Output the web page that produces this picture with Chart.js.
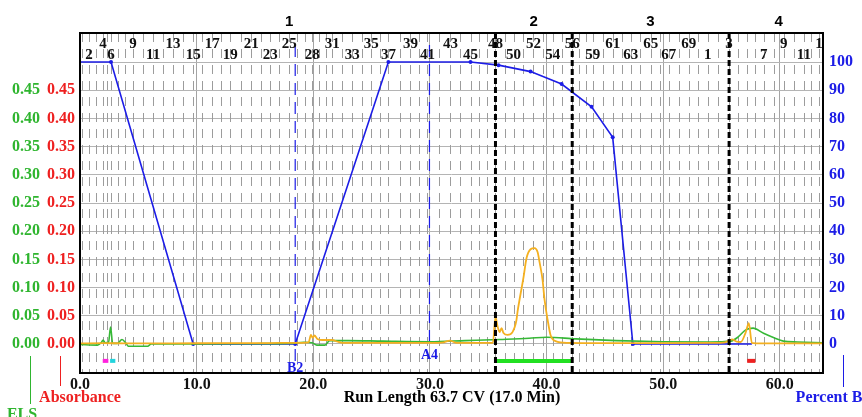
<!DOCTYPE html>
<html>
<head>
<meta charset="utf-8">
<script src="https://cdn.jsdelivr.net/npm/chart.js@4.4.1/dist/chart.umd.min.js"></script>
<style>
  html, body { margin: 0; padding: 0; background: #fff; }
  #wrap { width: 862px; height: 417px; }
</style>
</head>
<body>
<div id="wrap"><canvas id="chart" width="862" height="417"></canvas></div>
<script>
// gradient, percent B
const gradientCV = [0, 2.66, 9.7, 18.45, 26.44, 33.48, 35.88, 38.63, 41.29, 43.86, 45.67, 47.4, 57.6];
const gradientB = [100, 100, 0, 0, 100, 100, 98.9, 96.6, 92.2, 84.1, 73.3, 0, 0];

// absorbance trace
const uvCV = [0, 2, 4, 8, 12, 16, 18.3, 19.6, 19.8, 19.95, 20.1, 20.35, 20.8, 21.6, 22.1, 22.5,
  26, 30, 31.2, 31.7, 32.3, 35.4, 35.62, 35.79, 35.97, 36.14, 36.31, 36.65, 37.08, 37.42, 37.51, 37.68,
  38.03, 38.28, 38.63, 38.97, 39.23, 39.4, 39.66, 39.83, 40.09, 40.34, 40.77, 41.8, 46, 50, 54,
  55.3, 55.9, 56.3, 56.65, 57.08, 57.34, 57.6, 58.5, 63.7];
const uvAbs = [0.001, 0.0015, 0.001, 0.001, 0.0015, 0.0015, 0.002, 0.003, 0.016, 0.011, 0.015, 0.009, 0.007, 0.007, 0.004, 0.002,
  0.002, 0.002, 0.003, 0.006, 0.002, 0.002, 0.048, 0.032, 0.021, 0.028, 0.0195, 0.016, 0.021, 0.0425, 0.057, 0.078,
  0.119, 0.152, 0.168, 0.170, 0.163, 0.145, 0.113, 0.078, 0.043, 0.016, 0.005, 0.002, 0.0015, 0.0015, 0.002,
  0.003, 0.008, 0.004, 0.0035, 0.021, 0.037, 0.002, 0.001, 0.001];

// ELS trace
const elsCV = [0, 1.5, 1.85, 1.98, 2.15, 2.45, 2.62, 2.8, 3.2, 3.6, 3.95, 4.15, 5.8, 6.1, 10, 15, 18, 19.2, 19.9, 20.3,
  21, 21.4, 23, 26, 30, 33, 36, 38.5, 40, 42.5, 46, 50, 54, 55.8, 56.4, 57.08, 57.7, 58.6, 59.5, 60.3, 61.5, 63.7];
const elsSignal = [-0.001, -0.002, 0.003, 0.007, 0.002, 0.003, 0.030, 0.001, 0.001, 0.008, 0.001, -0.004, -0.004, 0, 0, 0.0005, 0.001, 0.003, 0.002, -0.002,
  -0.002, 0.006, 0.006, 0.005, 0.004, 0.006, 0.008, 0.010, 0.012, 0.009, 0.006, 0.004, 0.0035, 0.005, 0.012, 0.025, 0.028, 0.019, 0.011, 0.005, 0.0035, 0.002];

// collected fractions (bars under the baseline)
const collectStart = [1.95, 2.58, 35.7, 57.2];
const collectEnd = [2.43, 3.03, 42.1, 57.9];
const collectColors = ['#ff22dd', '#22d4dd', '#22e022', '#ee2020'];

// fraction tubes
const fractionEdges = [0.2, 0.77, 1.37, 1.97, 2.3, 2.66, 3.3, 3.9, 4.55, 5.4, 6.27, 7.1, 7.98, 8.85, 9.7, 10.5, 11.33,
  12.1, 12.88, 13.8, 14.68, 15.5, 16.31, 17.1, 17.94, 18.6, 19.25, 19.91, 20.5, 21.05, 21.63, 22.5, 23.35, 24.15,
  24.98, 25.7, 26.44, 27.4, 28.33, 29.05, 29.79, 30.8, 31.76, 32.6, 33.48, 34.2, 34.9, 35.62, 36.4, 37.17, 38.0,
  38.88, 39.7, 40.52, 41.35, 42.2, 42.8, 43.4, 43.95, 44.8, 45.67, 46.45, 47.21, 48.05, 48.93, 49.7, 50.47, 51.35,
  52.19, 53.0, 53.82, 54.7, 55.65, 56.4, 57.15, 57.9, 58.63, 59.5, 60.34, 61.2, 62.06, 62.7, 63.35];
const upperLabels = [['4', 1.97], ['9', 4.55], ['13', 7.98], ['17', 11.33], ['21', 14.68], ['25', 17.94], ['31', 21.63],
  ['35', 24.98], ['39', 28.33], ['43', 31.76], ['48', 35.62], ['52', 38.88], ['56', 42.2], ['61', 45.67], ['65', 48.93],
  ['69', 52.19], ['3', 55.65], ['9', 60.34], ['1', 63.35]];
const lowerLabels = [['2', 0.77], ['6', 2.66], ['11', 6.27], ['15', 9.7], ['19', 12.88], ['23', 16.31], ['28', 19.91],
  ['33', 23.35], ['37', 26.44], ['41', 29.79], ['45', 33.48], ['50', 37.17], ['54', 40.52], ['59', 43.95], ['63', 47.21],
  ['67', 50.47], ['1', 53.82], ['7', 58.63], ['11', 62.06]];

// regions and markers
const regionNames = ['1', '2', '3', '4'];
const regionCenters = [17.94, 38.9, 48.9, 59.9];
const regionEdges = [35.62, 42.2, 55.65];
const markerNames = ['B2', 'A4'];
const markerCV = [18.45, 29.96];

// axes
const xTicks = [0, 10, 20, 30, 40, 50, 60];
const pctTicks = [0, 10, 20, 30, 40, 50, 60, 70, 80, 90, 100];
const absTicks = [0, 0.05, 0.10, 0.15, 0.20, 0.25, 0.30, 0.35, 0.40, 0.45];

const BLUE = '#1c1ce6';
const RED = '#ee2020';
const GREEN = '#2fb52f';
const serif = "'Liberation Serif', 'Times New Roman', serif";

const zip = (xs, ys) => xs.map((x, i) => ({ x: x, y: ys[i] }));
const fixTicks = values => scale => { scale.ticks = values.map(v => ({ value: v })); };

const datasets = [
  {
    data: zip(uvCV, uvAbs), yAxisID: 'abs', borderColor: '#f4b020', borderWidth: 1.8,
    pointRadius: 0, cubicInterpolationMode: 'monotone', order: 1
  },
  {
    data: zip(elsCV, elsSignal), yAxisID: 'els', borderColor: '#36b836', borderWidth: 1.6,
    pointRadius: 0, cubicInterpolationMode: 'monotone', order: 2
  },
  {
    data: zip(gradientCV, gradientB), yAxisID: 'pct', borderColor: BLUE, borderWidth: 1.6,
    pointRadius: c => (c.dataIndex === 0 || c.dataIndex === gradientCV.length - 1) ? 0 : 2,
    pointBackgroundColor: BLUE, pointBorderWidth: 0, order: 3
  }
];
collectStart.forEach((s, i) => {
  datasets.push({
    data: [{ x: s, y: -6 }, { x: collectEnd[i], y: -6 }], yAxisID: 'pct',
    borderColor: collectColors[i], borderWidth: 4, pointRadius: 0, order: 0
  });
});

function vline(ctx, px, y0, y1) {
  ctx.beginPath();
  ctx.moveTo(px, y0);
  ctx.lineTo(px, y1);
  ctx.stroke();
}

const overlay = {
  id: 'overlay',
  beforeDatasetsDraw(chart) {
    const { ctx, chartArea: a, scales } = chart;
    const x = scales.x, p = scales.pct;
    ctx.save();
    ctx.beginPath();
    ctx.rect(a.left, a.top, a.width, a.height);
    ctx.clip();
    ctx.strokeStyle = '#9c9c9c';
    ctx.lineWidth = 1;
    ctx.setLineDash([9, 7]);
    fractionEdges.forEach(v => vline(ctx, Math.round(x.getPixelForValue(v)) + 0.5, a.top, a.bottom));
    ctx.strokeStyle = BLUE;
    ctx.lineWidth = 1.2;
    ctx.setLineDash([12, 7]);
    vline(ctx, x.getPixelForValue(markerCV[0]), p.getPixelForValue(106), p.getPixelForValue(-6.5));
    vline(ctx, x.getPixelForValue(markerCV[1]), p.getPixelForValue(106), p.getPixelForValue(-1.5));
    ctx.restore();
  },
  afterDatasetsDraw(chart) {
    const { ctx, chartArea: a, scales } = chart;
    const x = scales.x;
    ctx.save();

    // region boundaries
    ctx.strokeStyle = '#000';
    ctx.lineWidth = 3;
    ctx.setLineDash([6, 3]);
    regionEdges.forEach(v => vline(ctx, x.getPixelForValue(v), a.top, a.bottom));
    ctx.setLineDash([]);

    // marker labels
    ctx.fillStyle = BLUE;
    ctx.textAlign = 'center';
    ctx.font = 'bold 14px ' + serif;
    ctx.fillText(markerNames[0], x.getPixelForValue(markerCV[0]), 372);
    ctx.fillText(markerNames[1], x.getPixelForValue(markerCV[1]), 359);

    // fraction numbers
    ctx.save();
    ctx.beginPath();
    ctx.rect(a.left, a.top, a.width, a.height);
    ctx.clip();
    ctx.fillStyle = '#111';
    ctx.font = 'bold 15px ' + serif;
    upperLabels.forEach(l => ctx.fillText(l[0], x.getPixelForValue(l[1]), 48));
    lowerLabels.forEach(l => ctx.fillText(l[0], x.getPixelForValue(l[1]), 59));
    ctx.restore();

    // frame
    ctx.strokeStyle = '#000';
    ctx.lineWidth = 2;
    ctx.strokeRect(a.left, a.top, a.width, a.height);

    // region numbers above the plot
    ctx.fillStyle = '#000';
    ctx.font = "bold 15px 'Liberation Sans', Arial, sans-serif";
    regionNames.forEach((n, i) => ctx.fillText(n, x.getPixelForValue(regionCenters[i]), 26));

    // axis titles
    ctx.font = 'bold 16px ' + serif;
    ctx.fillText('Run Length 63.7 CV (17.0 Min)', 452, 402);
    ctx.fillStyle = RED;
    ctx.fillText('Absorbance', 80, 402);
    ctx.fillStyle = GREEN;
    ctx.fillText('ELS', 22, 419);
    ctx.fillStyle = BLUE;
    ctx.fillText('Percent B', 829, 402);
    ctx.lineWidth = 1;
    ctx.strokeStyle = GREEN;
    vline(ctx, 30.5, 356, 404);
    ctx.strokeStyle = RED;
    vline(ctx, 60.5, 356, 386);
    ctx.strokeStyle = BLUE;
    vline(ctx, 843.5, 355, 387);
    ctx.restore();
  }
};

const tickFont = { family: serif, size: 16, weight: 'bold' };

new Chart(document.getElementById('chart'), {
  type: 'line',
  data: { datasets: datasets },
  plugins: [overlay],
  options: {
    responsive: false,
    animation: false,
    devicePixelRatio: 1,
    layout: { padding: { top: 33, left: 0, right: 0, bottom: 0 } },
    plugins: { legend: { display: false }, tooltip: { enabled: false } },
    elements: { line: { fill: false } },
    scales: {
      x: {
        type: 'linear', position: 'bottom', min: 0, max: 63.7,
        afterBuildTicks: fixTicks(xTicks),
        afterFit: s => { s.height = 44; },
        grid: { color: '#a4a4a4', lineWidth: 1, drawTicks: false },
        border: { display: false },
        ticks: { font: tickFont, color: '#111', padding: 2, maxRotation: 0, callback: v => v.toFixed(1) }
      },
      pct: {
        type: 'linear', position: 'right', min: -10.3, max: 110.3,
        afterBuildTicks: fixTicks(pctTicks),
        afterFit: s => { s.width = 39; },
        grid: { color: '#b4b4b4', lineWidth: 1, drawTicks: false },
        border: { display: false },
        ticks: { font: tickFont, color: BLUE, padding: 6, callback: v => String(v) }
      },
      abs: {
        type: 'linear', position: 'left', weight: 0, min: -0.0515, max: 0.5515,
        afterBuildTicks: fixTicks(absTicks),
        afterFit: s => { s.width = 36; },
        grid: { display: false, drawTicks: false },
        border: { display: false },
        ticks: { font: tickFont, color: RED, padding: 5, callback: v => v.toFixed(2) }
      },
      els: {
        type: 'linear', position: 'left', weight: 1, min: -0.0515, max: 0.5515,
        afterBuildTicks: fixTicks(absTicks),
        afterFit: s => { s.width = 44; },
        grid: { display: false, drawTicks: false },
        border: { display: false },
        ticks: { font: tickFont, color: GREEN, padding: 4, callback: v => v.toFixed(2) }
      }
    }
  }
});
</script>
</body>
</html>
